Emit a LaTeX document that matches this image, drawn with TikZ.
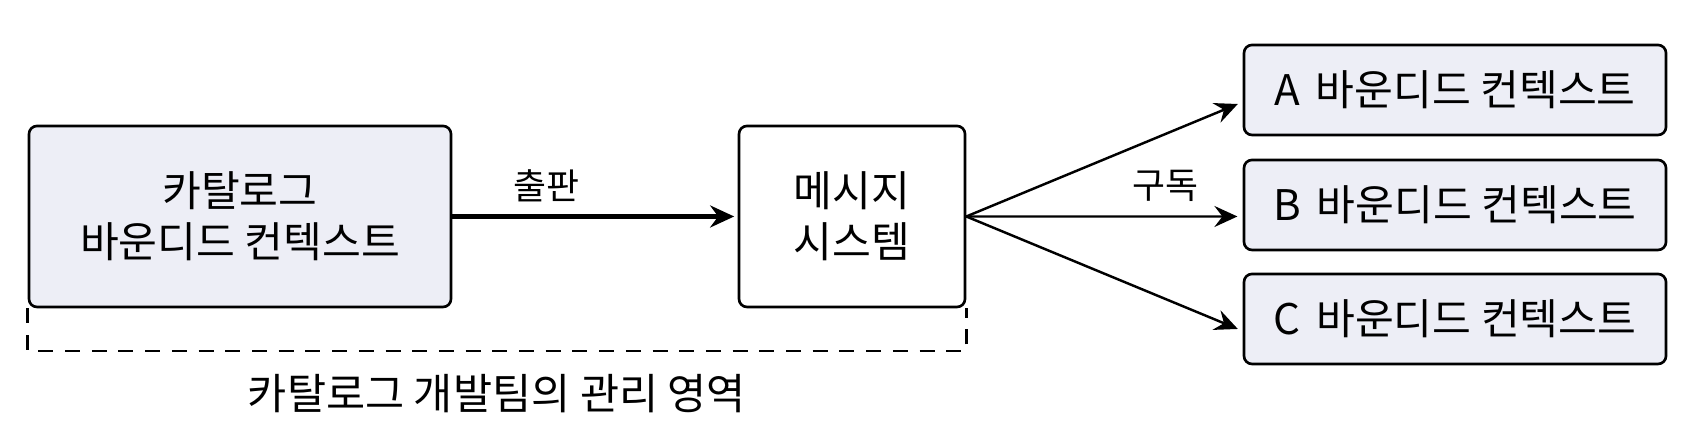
\documentclass[tikz,border=0pt]{standalone}
\usepackage{fontspec}
\setmainfont{Noto Sans CJK KR}
\usepackage{tikz}
\usepackage{xcolor}
\usetikzlibrary{arrows.meta,positioning,calc}
\definecolor{ink}   {HTML}{000000}
\definecolor{ctxbg} {HTML}{EDEEF6}
\tikzset{
  box/.style    ={draw=ink, fill=white, line width=0.75pt, rounded corners=0.08cm,
                  align=center, inner sep=0pt, font=\fontsize{12}{14.5}\selectfont},
  ctxbox/.style ={box, fill=ctxbg, minimum width=4.22cm},
  arr/.style    ={-{Stealth[length=2.3mm,width=2.1mm,inset=0.8mm]}, line width=0.7pt,
                  shorten >=1.5pt},
  pubarr/.style ={-{Stealth[length=2.4mm,width=2.2mm,inset=0.8mm]}, line width=1.4pt,
                  shorten >=1pt},
  lbl/.style    ={font=\fontsize{10.2}{12}\selectfont},
  area/.style   ={ink, dash pattern=on 1.5mm off 1.17mm, line width=0.75pt},
}
\begin{document}
\begin{tikzpicture}[x=1cm,y=1cm]
  \useasboundingbox (0,0) rectangle (16.94,4.34);
  % publisher side
  \node[ctxbox,minimum height=1.81cm] (cat) at (2.40,2.175)
    {카탈로그\\바운디드 컨텍스트};
  \node[box,minimum width=2.26cm,minimum height=1.81cm] (msg) at (8.52,2.175)
    {메시지\\시스템};
  \draw[pubarr] (cat.east) -- (msg.west);
  \node[lbl] (pub) at (5.46,2.48) {출판};
  % subscribers
  \node[ctxbox,minimum height=0.90cm] (ctxa) at (14.55,3.44) {A\hspace{0.15em} 바운디드 컨텍스트};
  \node[ctxbox,minimum height=0.90cm] (ctxb) at (14.55,2.29) {B\hspace{0.15em} 바운디드 컨텍스트};
  \node[ctxbox,minimum height=0.90cm] (ctxc) at (14.55,1.15) {C\hspace{0.15em} 바운디드 컨텍스트};
  \draw[arr] (msg.east) -- ($(ctxa.west)+(0,-0.12)$);
  \draw[arr] (msg.east) -- ($(ctxb.west)+(0,-0.115)$);
  \draw[arr] (msg.east) -- ($(ctxc.west)+(0,-0.12)$);
  \node[lbl] (sub) at (11.65,2.48) {구독};
  % managed area
  \draw[area] (cat.south west) -- (cat.south west |- 0,0.83)
    -- (msg.south east |- 0,0.83) -- (msg.south east);
  \node[font=\fontsize{12.1}{14}\selectfont] (team) at (4.97,0.40)
    {카탈로그 개발팀의 관리 영역};
\end{tikzpicture}
\end{document}
